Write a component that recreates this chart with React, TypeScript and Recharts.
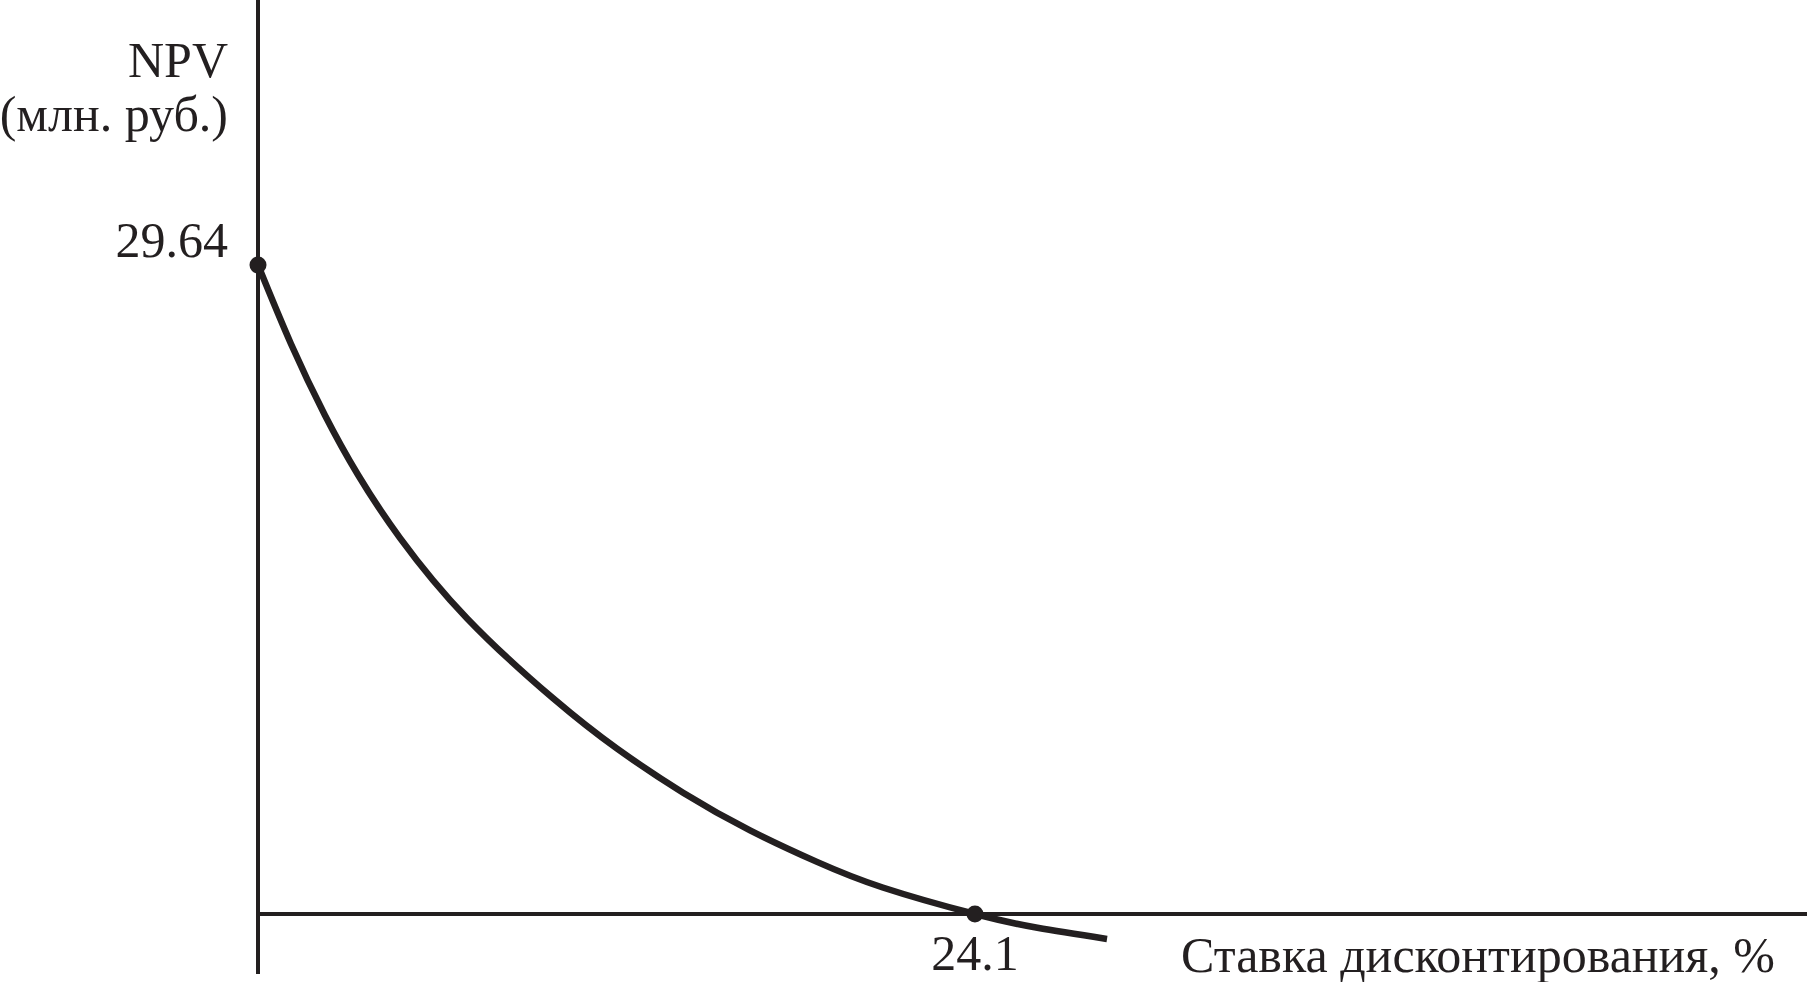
import React from "react";
import {
  LineChart,
  Line,
  XAxis,
  YAxis,
  ReferenceLine,
  ReferenceDot,
  Label,
} from "recharts";

// discount rate, %
const rates = [
  0, 1.11, 2.25, 3.36, 4.77, 7.03, 9.92, 12.07, 14.29, 16.54, 18.79, 21.0,
  24.1, 26.2, 28.54,
];
// NPV, mln rub
const npv = [
  29.64, 26.03, 22.78, 20.06, 17.18, 13.5, 9.85, 7.55, 5.54, 3.82, 2.38, 1.21,
  0, -0.63, -1.14,
];

const yTicks = [29.64];
const xTicks = [24.1];
const irr = 24.1;

const data = rates.map((r, i) => ({ rate: r, npv: npv[i] }));

const ink = "#231f20";
const font = "'Liberation Serif', 'Times New Roman', serif";

const YTick = (props: any) => {
  const { x, y, payload } = props;
  return (
    <text x={x - 30} y={y - 8} textAnchor="end" fill={ink} fontSize={50} fontFamily={font}>
      {payload.value}
    </text>
  );
};

const XTick = (props: any) => {
  const { x, y, payload } = props;
  return (
    <text x={x} y={y - 4} textAnchor="middle" fill={ink} fontSize={50} fontFamily={font}>
      {payload.value}
    </text>
  );
};

export default function App() {
  return (
    <div style={{ position: "absolute", left: 0, top: 0, background: "#fff" }}>
      <LineChart
        width={1807}
        height={982}
        data={data}
        margin={{ top: 0, right: 0, bottom: 0, left: 0 }}
      >
        <XAxis
          dataKey="rate"
          type="number"
          domain={[0, 52.07]}
          ticks={xTicks}
          tick={<XTick />}
          tickSize={0}
          tickMargin={0}
          axisLine={false}
          tickLine={false}
          height={8}
        >
          <Label
            content={(p: any) => {
              const vb = p.viewBox || { x: 258, y: 974, width: 1549 };
              return (
                <text
                  x={vb.x + vb.width - 32}
                  y={vb.y - 2}
                  textAnchor="end"
                  fill={ink}
                  fontSize={50}
                  fontFamily={font}
                >
                  Ставка дисконтирования, %
                </text>
              );
            }}
          />
        </XAxis>
        <YAxis
          type="number"
          domain={[-2.74, 41.74]}
          ticks={yTicks}
          tick={<YTick />}
          tickSize={0}
          tickMargin={0}
          axisLine={false}
          tickLine={false}
          width={258}
        >
          <Label
            content={(p: any) => {
              const vb = p.viewBox || { x: 0, y: 0, width: 258 };
              const rx = vb.x + vb.width - 30;
              return (
                <g>
                  <text x={rx} y={vb.y + 77} textAnchor="end" fill={ink} fontSize={50} fontFamily={font}>
                    NPV
                  </text>
                  <text x={rx} y={vb.y + 131} textAnchor="end" fill={ink} fontSize={50} fontFamily={font}>
                    (млн. руб.)
                  </text>
                </g>
              );
            }}
          />
        </YAxis>
        <ReferenceLine x={0} stroke={ink} strokeWidth={4} />
        <ReferenceLine y={0} stroke={ink} strokeWidth={4} />
        <Line
          type="natural"
          dataKey="npv"
          stroke={ink}
          strokeWidth={6.5}
          dot={false}
          activeDot={false}
          isAnimationActive={false}
        />
        <ReferenceDot x={0} y={npv[0]} r={8.5} fill={ink} stroke="none" />
        <ReferenceDot x={irr} y={0} r={8.5} fill={ink} stroke="none" />
      </LineChart>
    </div>
  );
}
